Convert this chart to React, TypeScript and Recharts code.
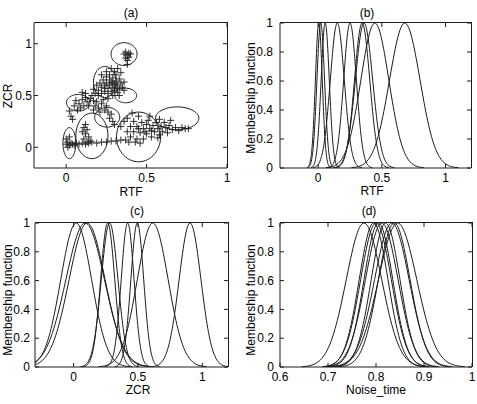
import React from "react";
import { ComposedChart, Line, Scatter, XAxis, YAxis } from "recharts";

const FONT = '"Liberation Sans", Arial, Helvetica, sans-serif';
const INK = "#1c1c1c";

// (a) training samples, [RTF, ZCR]
const samplePoints: [number, number][] = [
  // top group
  [0.36, 0.9], [0.37, 0.92], [0.38, 0.89], [0.39, 0.91], [0.37, 0.86], [0.38, 0.84],
  [0.39, 0.87], [0.4, 0.9], [0.38, 0.8],
  // dense middle group
  [0.2, 0.55], [0.22, 0.58], [0.24, 0.6], [0.25, 0.62], [0.26, 0.57], [0.27, 0.6],
  [0.28, 0.63], [0.29, 0.58], [0.3, 0.61], [0.31, 0.64], [0.32, 0.6], [0.33, 0.57],
  [0.3, 0.55], [0.28, 0.54], [0.26, 0.52], [0.24, 0.54], [0.22, 0.52], [0.2, 0.5],
  [0.18, 0.52], [0.23, 0.65], [0.25, 0.68], [0.27, 0.7], [0.29, 0.67], [0.31, 0.7],
  [0.33, 0.66], [0.34, 0.62], [0.35, 0.58], [0.32, 0.53], [0.29, 0.5], [0.26, 0.47],
  [0.21, 0.62], [0.19, 0.6], [0.17, 0.56], [0.16, 0.5], [0.3, 0.73], [0.28, 0.76],
  [0.32, 0.76], [0.34, 0.72], [0.27, 0.65], [0.29, 0.62], [0.31, 0.57], [0.24, 0.57],
  [0.36, 0.55], [0.36, 0.63], [0.22, 0.7], [0.25, 0.73], [0.33, 0.5],
  // left group
  [0.02, 0.35], [0.03, 0.3], [0.05, 0.4], [0.06, 0.45], [0.08, 0.42], [0.1, 0.46],
  [0.12, 0.48], [0.09, 0.38], [0.07, 0.36], [0.11, 0.4], [0.13, 0.44], [0.14, 0.4],
  [0.04, 0.27], [0.15, 0.47], [0.17, 0.45], [0.12, 0.52], [0.1, 0.53],
  // middle column
  [0.18, 0.4], [0.2, 0.38], [0.22, 0.42], [0.24, 0.36], [0.26, 0.34], [0.28, 0.32],
  [0.27, 0.28], [0.29, 0.25], [0.3, 0.22], [0.25, 0.4], [0.23, 0.46], [0.19, 0.44],
  [0.21, 0.34], [0.17, 0.36],
  // bottom trail
  [0.0, 0.03], [0.01, 0.05], [0.02, 0.02], [0.03, 0.04], [0.04, 0.03], [0.05, 0.02],
  [0.06, 0.04], [0.08, 0.03], [0.1, 0.04], [0.12, 0.03], [0.14, 0.04], [0.16, 0.05],
  [0.19, 0.04], [0.22, 0.05], [0.25, 0.05], [0.28, 0.06], [0.31, 0.06], [0.34, 0.07],
  [0.37, 0.07], [0.0, 0.08], [0.02, 0.1], [0.01, 0.0],
  // small low group
  [0.1, 0.15], [0.11, 0.19], [0.12, 0.13], [0.13, 0.17], [0.14, 0.1], [0.12, 0.22],
  [0.11, 0.08], [0.15, 0.06], [0.13, 0.05],
  // right group
  [0.38, 0.15], [0.4, 0.2], [0.4, 0.1], [0.42, 0.25], [0.42, 0.15], [0.44, 0.08],
  [0.44, 0.2], [0.45, 0.3], [0.46, 0.14], [0.47, 0.24], [0.48, 0.18], [0.48, 0.08],
  [0.5, 0.22], [0.5, 0.13], [0.51, 0.26], [0.52, 0.18], [0.53, 0.1], [0.54, 0.21],
  [0.55, 0.15], [0.56, 0.24], [0.57, 0.18], [0.58, 0.12], [0.59, 0.2], [0.6, 0.15],
  [0.61, 0.24], [0.62, 0.19], [0.63, 0.14], [0.64, 0.21], [0.66, 0.17], [0.68, 0.19],
  [0.7, 0.16], [0.72, 0.19], [0.74, 0.18], [0.76, 0.18], [0.41, 0.33], [0.39, 0.05],
  [0.43, 0.05], [0.46, 0.04], [0.52, 0.3], [0.58, 0.27], [0.65, 0.26], [0.45, 0.18],
  [0.49, 0.15], [0.53, 0.16], [0.57, 0.09], [0.36, 0.25], [0.34, 0.2], [0.38, 0.28],
];

// (a) cluster ellipses
const ellipseRtf = [0.36, 0.24, 0.37, 0.075, 0.255, 0.02, 0.16, 0.45, 0.69];
const ellipseZcr = [0.9, 0.63, 0.5, 0.43, 0.29, 0.04, 0.11, 0.1, 0.28];
const ellipseRx = [0.081, 0.07, 0.068, 0.073, 0.078, 0.04, 0.1, 0.137, 0.135];
const ellipseRy = [0.11, 0.15, 0.07, 0.08, 0.095, 0.15, 0.22, 0.24, 0.11];

// membership functions: centre and width
const rtfCenters = [0.005, 0.02, 0.055, 0.15, 0.25, 0.345, 0.36, 0.445, 0.68];
const rtfWidths = [0.027, 0.03, 0.032, 0.055, 0.05, 0.06, 0.068, 0.11, 0.12];
const zcrCenters = [0.02, 0.09, 0.105, 0.265, 0.28, 0.42, 0.495, 0.615, 0.905];
const zcrWidths = [0.12, 0.15, 0.14, 0.055, 0.065, 0.05, 0.05, 0.12, 0.085];
const noiseCenters = [0.775, 0.795, 0.8, 0.805, 0.812, 0.82, 0.833, 0.838, 0.845];
const noiseWidths = [0.037, 0.03, 0.032, 0.03, 0.034, 0.03, 0.036, 0.033, 0.04];

// normalised bell profile (offset in widths -> membership)
const bellU = [-3.5, -3.25, -3, -2.75, -2.5, -2.25, -2, -1.75, -1.5, -1.25, -1, -0.75, -0.5, -0.25, 0,
  0.25, 0.5, 0.75, 1, 1.25, 1.5, 1.75, 2, 2.25, 2.5, 2.75, 3, 3.25, 3.5];
const bellMu = [0.0022, 0.0051, 0.0111, 0.0228, 0.0439, 0.0796, 0.1353, 0.2163, 0.3247, 0.4578, 0.6065,
  0.7548, 0.8825, 0.9692, 1, 0.9692, 0.8825, 0.7548, 0.6065, 0.4578, 0.3247, 0.2163, 0.1353, 0.0796,
  0.0439, 0.0228, 0.0111, 0.0051, 0.0022];

const mfTicksY = [0, 0.2, 0.4, 0.6, 0.8, 1];

const bell = (c: number, w: number) => bellU.map((u, i) => ({ x: c + u * w, y: bellMu[i] }));

const ellipse = (i: number) => {
  const pts = [];
  for (let k = 0; k <= 60; k++) {
    const a = (k / 60) * 2 * Math.PI;
    pts.push({ x: ellipseRtf[i] + ellipseRx[i] * Math.cos(a), y: ellipseZcr[i] + ellipseRy[i] * Math.sin(a) });
  }
  return pts;
};

const Plus = (props: any) => {
  const { cx, cy } = props;
  if (cx == null || cy == null) return <g />;
  return (
    <path
      d={`M${cx - 3.5},${cy}H${cx + 3.5}M${cx},${cy - 3.5}V${cy + 3.5}`}
      stroke={INK}
      strokeWidth={0.9}
      fill="none"
    />
  );
};

type Box = { cx: number; cy: number; cw: number; ch: number; pl: number; pt: number; pr: number; pb: number };

// bottom tick: label below, plus the matching inward tick on the top edge
const makeXTick = (top: number) => (props: any) => {
  const { x, y, payload } = props;
  return (
    <g>
      <text x={x} y={y} dy="0.71em" textAnchor="middle" fontSize={12} fontFamily={FONT} fill="#000">
        {String(payload.value)}
      </text>
      <line x1={x} x2={x} y1={top} y2={top + 4} stroke={INK} strokeWidth={1} />
    </g>
  );
};

// left tick: label left, plus the matching inward tick on the right edge
const makeYTick = (right: number) => (props: any) => {
  const { x, y, payload } = props;
  return (
    <g>
      <text x={x} y={y} dy="0.355em" textAnchor="end" fontSize={12} fontFamily={FONT} fill="#000">
        {String(payload.value)}
      </text>
      <line x1={right} x2={right - 4} y1={y} y2={y} stroke={INK} strokeWidth={1} />
    </g>
  );
};

function Frame({
  box,
  xDomain,
  yDomain,
  xTicks,
  yTicks,
  yMargin,
  children,
}: {
  box: Box;
  xDomain: [number, number];
  yDomain: [number, number];
  xTicks: number[];
  yTicks: number[];
  yMargin: number;
  children: React.ReactNode;
}) {
  const xh = 22;
  return (
    <>
      <div style={{ position: "absolute", left: box.cx, top: box.cy }}>
        <ComposedChart
          width={box.cw}
          height={box.ch}
          margin={{
            top: box.pt - box.cy,
            right: box.cx + box.cw - box.pr,
            bottom: box.cy + box.ch - box.pb - xh,
            left: 0,
          }}
        >
          <XAxis
            dataKey="x"
            type="number"
            domain={xDomain}
            ticks={xTicks}
            allowDataOverflow
            height={xh}
            tickSize={-4}
            tickMargin={9}
            tick={makeXTick(box.pt - box.cy)}
            stroke={INK}
          />
          <YAxis
            dataKey="y"
            type="number"
            domain={yDomain}
            ticks={yTicks}
            allowDataOverflow
            width={box.pl - box.cx}
            tickSize={-4}
            tickMargin={yMargin}
            tick={makeYTick(box.pr - box.cx)}
            stroke={INK}
          />
          {children}
        </ComposedChart>
      </div>
      {/* top and right edges of the axes box */}
      <div
        style={{
          position: "absolute",
          left: box.pl,
          top: box.pt - 1,
          width: box.pr - box.pl,
          height: box.pb - box.pt,
          borderTop: `1px solid ${INK}`,
          borderRight: `1px solid ${INK}`,
          pointerEvents: "none",
        }}
      />
    </>
  );
}

function mfLines(centers: number[], widths: number[]) {
  return centers.map((c, i) => (
    <Line
      key={i}
      data={bell(c, widths[i])}
      dataKey="y"
      type="monotone"
      stroke={INK}
      strokeWidth={1}
      dot={false}
      activeDot={false}
      isAnimationActive={false}
    />
  ));
}

const Txt = ({ x, y, text, rotate }: { x: number; y: number; text: string; rotate?: boolean }) => (
  <div
    style={{
      position: "absolute",
      left: x,
      top: y,
      transform: `translate(-50%, -50%)${rotate ? " rotate(-90deg)" : ""}`,
      fontFamily: FONT,
      fontSize: 12,
      lineHeight: 1,
      whiteSpace: "nowrap",
      color: "#000",
    }}
  >
    {text}
  </div>
);

export default function App() {
  return (
    <div style={{ position: "absolute", left: 0, top: 0, width: 477, height: 404, background: "#fff", overflow: "hidden" }}>
      <Frame
        box={{ cx: 0, cy: 0, cw: 238, ch: 200, pl: 34, pt: 23, pr: 227, pb: 168 }}
        xDomain={[-0.2, 1]}
        yDomain={[-0.2, 1.2]}
        xTicks={[0, 0.5, 1]}
        yTicks={[0, 0.5, 1]}
        yMargin={6}
      >
        {ellipseRtf.map((_, i) => (
          <Line
            key={`e${i}`}
            data={ellipse(i)}
            dataKey="y"
            type="linear"
            stroke={INK}
            strokeWidth={1}
            dot={false}
            activeDot={false}
            isAnimationActive={false}
          />
        ))}
        <Scatter
          data={samplePoints.map(([x, y]) => ({ x, y }))}
          dataKey="y"
          shape={Plus}
          isAnimationActive={false}
        />
      </Frame>
      <Frame
        box={{ cx: 237, cy: 0, cw: 240, ch: 200, pl: 280, pt: 23, pr: 471, pb: 168 }}
        xDomain={[-0.3, 1.2]}
        yDomain={[0, 1]}
        xTicks={[0, 0.5, 1]}
        yTicks={mfTicksY}
        yMargin={11}
      >
        {mfLines(rtfCenters, rtfWidths)}
      </Frame>
      <Frame
        box={{ cx: 0, cy: 200, cw: 238, ch: 204, pl: 35, pt: 223, pr: 228, pb: 367 }}
        xDomain={[-0.3, 1.2]}
        yDomain={[0, 1]}
        xTicks={[0, 0.5, 1]}
        yTicks={mfTicksY}
        yMargin={9}
      >
        {mfLines(zcrCenters, zcrWidths)}
      </Frame>
      <Frame
        box={{ cx: 237, cy: 200, cw: 240, ch: 204, pl: 280, pt: 223, pr: 472, pb: 367 }}
        xDomain={[0.6, 1]}
        yDomain={[0, 1]}
        xTicks={[0.6, 0.7, 0.8, 0.9, 1]}
        yTicks={mfTicksY}
        yMargin={10}
      >
        {mfLines(noiseCenters, noiseWidths)}
      </Frame>

      <Txt x={131} y={13} text="(a)" />
      <Txt x={367} y={13} text="(b)" />
      <Txt x={137} y={211} text="(c)" />
      <Txt x={369} y={211} text="(d)" />
      <Txt x={131} y={192} text="RTF" />
      <Txt x={372} y={191} text="RTF" />
      <Txt x={138} y={390} text="ZCR" />
      <Txt x={376} y={390} text="Noise_time" />
      <Txt x={8} y={96} text="ZCR" rotate />
      <Txt x={251} y={98} text="Membership function" rotate />
      <Txt x={8} y={300} text="Membership function" rotate />
      <Txt x={251} y={300} text="Membership function" rotate />
    </div>
  );
}
